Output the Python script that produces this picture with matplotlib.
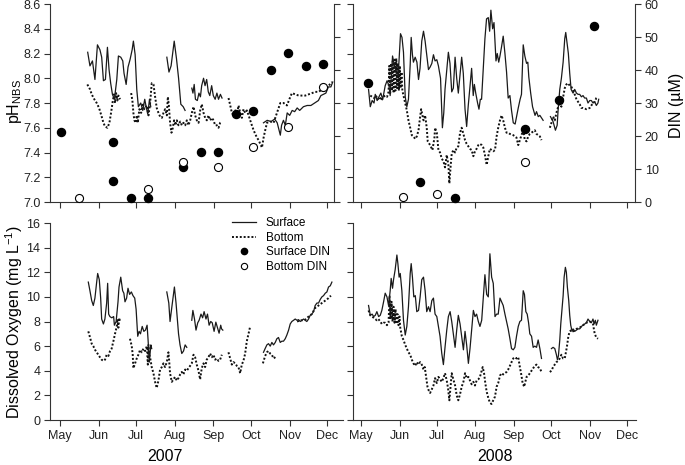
import numpy as np
import matplotlib.pyplot as plt
from matplotlib.lines import Line2D

plt.rcParams['font.family'] = ['Liberation Sans', 'DejaVu Sans']
plt.rcParams['mathtext.fontset'] = 'custom'
plt.rcParams['mathtext.rm'] = 'Liberation Sans'
plt.rcParams['axes.linewidth'] = 0.8

months = ['May', 'Jun', 'Jul', 'Aug', 'Sep', 'Oct', 'Nov', 'Dec']
month_day = [0, 31, 61, 92, 123, 153, 184, 214]   # days since 1 May

# ---------------- 2007 pH (days since 1 May; None = gap) ----------------
ph07_surf_day = [22.2, 24.0, 26.0, 28.0, 30.0, 32.0, 33.4, 34.8, 36.4, 38.0,
                 39.3, 40.6, 42.0, 43.6, 45.5, 46.8, 48.7, 50.3, 51.3, 53.0,
                 54.5, 56.1, 57.8, 58.8, 60.2, 61.5, 62.8, 64.7, 66.3, 67.9,
                 69.0, 70.3, 71.7, 72.7, None,
                 85.6, 87.3, 89.0, 91.5, 93.3, 95.0, 96.8, 98.7, 100.2, None,
                 105.6, 106.5, 107.5, 108.5, 110.0, 111.3, 112.5, 113.5, 115.0, 116.2,
                 117.5, 118.8, 120.0, 121.5, 122.8, 124.3, 125.7, 127.0, 128.5, 129.8, None,
                 163, 166, 169, 172, 174, 175.5, 176.5, 177.5, 179, 180.5,
                 182, 184, 186, 188, 190, 192, 195, 198, 201, 204,
                 207, 209, 211, 213, 215, 217, 218.5]
ph07_surf = [8.21, 8.10, 8.14, 7.99, 8.27, 8.23, 8.17, 7.98, 7.99, 8.25,
             8.07, 7.96, 7.87, 7.83, 7.99, 8.18, 8.17, 8.14, 8.04, 7.95,
             8.09, 8.15, 8.23, 8.30, 8.19, 7.91, 7.77, 7.80, 7.74, 7.83,
             7.77, 7.71, 7.83, 7.77, None,
             8.17, 8.05, 8.10, 8.30, 8.16, 8.00, 7.79, 7.77, 7.74, None,
             7.92, 7.88, 7.95, 7.83, 7.82, 7.88, 7.85, 7.94, 8.00, 7.94,
             7.99, 7.89, 7.86, 7.94, 7.86, 7.83, 7.88, 7.83, 7.87, 7.84, None,
             7.64, 7.66, 7.65, 7.67, 7.64, 7.58, 7.54, 7.62, 7.66, 7.62,
             7.72, 7.70, 7.74, 7.73, 7.76, 7.74, 7.77, 7.78, 7.78, 7.80,
             7.82, 7.86, 7.87, 7.88, 7.93, 7.93, 7.97]

ph07_bot_day = [21.9, 24.1, 25.4, 27.5, 29.4, 31.3, 33.4, 34.8, 36.1, 38.0,
                39.6, 40.9, 42.2, 43.3, 44.1, 44.9, 46.0, 46.8, 48.1, None,
                57.0, 58.0, 58.8, 59.6, 60.7, 61.5, 62.3, 63.6, 65.0, 66.3,
                67.6, 69.5, 70.9, 72.2, 73.5, 74.9, 76.2, 77.5, 78.9, 80.2,
                81.6, 82.9, 84.2, 85.6, 86.4, 87.2, 88.2, 89.3, 90.4, 91.4,
                92.5, 93.6, 94.9, 96.3, 97.6, 98.9, 100.3, 101.6, 102.9, 104.3,
                105.6, 107.0, 108.3, 109.6, 111.0, 112.3, 113.6, 115.0, 116.3, 117.6,
                119.0, 120.3, 121.7, 123.0, 124.3, 125.7, 127.0, 128.3, 129.7, None,
                135.0, 136.4, 137.7, 139.0, 140.4, 141.7, 143.0, 144.4, 145.7, 147.0,
                148.4, 149.7, 151.1, 152.4, 153.7, 155.1, 156.4, 157.8, 159.1, 160.4,
                161.8, 163.1, 164.4, 165.8, 168.4, 171.1, 173.8, 176.5, 179.1, 181.8,
                184.5, 185.8, 188.5, 191.2, 193.9, 196.5, 199.2, 201.9, 204.5, 207.2,
                209.9, 212.6, 215.2, 217.9]
ph07_bot = [7.95, 7.91, 7.87, 7.83, 7.80, 7.76, 7.69, 7.64, 7.61, 7.60,
            7.64, 7.72, 7.81, 7.87, 7.80, 7.88, 7.82, 7.86, 7.83, None,
            7.88, 7.82, 7.72, 7.66, 7.64, 7.70, 7.64, 7.75, 7.72, 7.80,
            7.75, 7.78, 7.70, 7.80, 7.96, 7.95, 7.85, 7.76, 7.72, 7.69,
            7.68, 7.72, 7.75, 7.70, 7.85, 7.78, 7.64, 7.56, 7.60, 7.66,
            7.62, 7.66, 7.62, 7.65, 7.62, 7.64, 7.62, 7.66, 7.62, 7.66,
            7.72, 7.77, 7.70, 7.66, 7.64, 7.74, 7.79, 7.72, 7.68, 7.66,
            7.70, 7.66, 7.68, 7.66, 7.62, 7.62, 7.60, 7.64, 7.65, None,
            7.84, 7.78, 7.72, 7.70, 7.74, 7.70, 7.78, 7.72, 7.68, 7.75,
            7.72, 7.74, 7.70, 7.66, 7.62, 7.58, 7.55, 7.52, 7.50, 7.47,
            7.44, 7.52, 7.58, 7.64, 7.65, 7.64, 7.72, 7.80, 7.80, 7.78,
            7.85, 7.88, 7.87, 7.86, 7.86, 7.86, 7.87, 7.88, 7.89, 7.89,
            7.91, 7.92, 7.94, 7.97]

din07_surf_day = [0.8, 42.8, 42.8, 57.0, 70.6, 98.4, 112.8, 126.7, 141.0, 154.5, 169.0, 183.0, 196.8, 210.4]
din07_surf = [21.2, 18.3, 6.4, 1.3, 1.3, 10.5, 15.1, 15.1, 26.6, 27.7, 40.0, 45.3, 41.2, 41.7]
din07_bot_day = [15.2, 70.6, 98.4, 126.7, 155.0, 183.0, 210.4]
din07_bot = [1.3, 3.9, 12.0, 10.7, 16.8, 22.7, 34.7]

# ---------------- 2008 pH ----------------
ph08_surf_day = [6.1, 7.5, 9.0, 10.5, 11.5, 13.0, 14.5, 16.0, 17.5, 19.5,
                 21.0, 22.5, 23.5, 25.4, 27.0, 28.5, 30.0, 31.8, 33.0, 34.2,
                 35.6, 36.9, 38.2, 39.6, 40.4, 41.4, 42.2, 43.6, 45.0, 46.3,
                 47.5, 48.9, 50.3, 51.6, 53.0, 54.3, 55.6, 57.0, 58.3, 59.6,
                 61.0, 62.3, 64.0, 65.5, 66.6, 67.6, 69.0, 70.3, 71.6, 73.0,
                 74.3, 75.7, 77.0, 78.3, 79.6, 81.0, 82.3, 83.7, 85.0, 86.3,
                 87.6, 89.0, 90.3, 91.2, 92.3, 93.8, 94.9, 96.0, 97.0, 98.5,
                 99.7, 101.0, 102.4, 103.5, 104.5, 105.9, 107.0, 108.6, 109.6, 110.8,
                 111.8, 113.0, 114.4, 115.8, 117.1, 118.4, 119.8, 121.1, 122.5, 124.0,
                 126.5, 128.0, 129.1, 130.5, 131.8, 133.2, 134.2, 135.0, 136.5, 138.0,
                 140.0, 141.2, 142.6, 143.9, 145.2, 146.5, None,
                 152.4, 154.5, 156.4, 157.8, 158.6, 159.9, 161.2, 162.6, 163.9, 164.7,
                 165.8, 166.8, 167.9, 169.0, 170.6, 171.9, 173.3, 174.6, 175.9, 177.3,
                 178.6, 179.9, 181.3, 182.6, 184.0, 185.3, 186.6, 188.0, 189.3, 190.6,
                 191.2]
ph08_surf = [7.91, 7.77, 7.82, 7.80, 7.87, 7.82, 7.85, 7.88, 7.83, 7.94,
             7.98, 7.94, 7.86, 8.18, 8.10, 8.04, 8.03, 8.36, 8.33, 8.21,
             7.85, 7.77, 7.83, 8.11, 8.33, 8.19, 8.13, 8.17, 8.13, 7.99,
             8.08, 8.30, 8.38, 8.30, 8.18, 8.07, 8.09, 8.12, 8.19, 8.14,
             8.15, 8.10, 8.00, 7.60, 7.72, 7.91, 8.07, 8.21, 8.12, 7.89,
             7.92, 8.17, 8.00, 7.88, 8.02, 8.17, 8.04, 7.75, 7.61, 7.78,
             7.92, 8.08, 7.86, 7.95, 7.88, 7.80, 7.75, 7.83, 7.83, 8.10,
             8.32, 8.48, 8.49, 8.38, 8.55, 8.40, 8.45, 8.14, 8.20, 8.13,
             8.18, 8.25, 8.34, 8.20, 8.05, 7.84, 7.86, 7.74, 7.64, 7.63,
             7.76, 7.83, 7.87, 8.27, 8.18, 8.12, 8.13, 8.01, 7.88, 7.77,
             7.70, 7.73, 7.69, 7.70, 7.68, 7.66, None,
             7.69, 7.65, 7.58, 7.62, 7.75, 7.91, 8.00, 8.13, 8.32, 8.37,
             8.28, 8.20, 8.04, 7.91, 7.88, 7.91, 7.88, 7.87, 7.87, 7.85,
             7.86, 7.84, 7.84, 7.80, 7.82, 7.82, 7.80, 7.81, 7.78, 7.80,
             7.83]

ph08_bot_day = [7.5, 9.0, 10.5, 12.0, 13.5, 15.0, 16.5, 18.0, 19.5, 21.0,
                22.2, 22.8, 23.5, 24.2, 24.9, 25.6, 26.3, 27.0, 27.7, 28.4,
                29.1, 29.8, 30.5, 31.2, 31.9, 32.6, 33.3, 34.2, 35.6, 36.9,
                38.2, 39.6, 40.9, 42.2, 43.6, 44.9, 46.3, 47.6, 48.4, 49.5,
                50.3, 51.6, 52.9, 53.7, 55.6, 57.5, 59.1, 59.6, 61.0, 62.3,
                63.6, 65.0, 66.3, 67.6, 69.0, 70.3, 71.1, 72.2, 73.0, 74.3,
                75.7, 77.0, 78.3, 79.7, 81.0, 82.4, 83.7, 85.0, 86.4, 87.7,
                89.0, 90.4, 91.7, 93.0, 94.4, 95.7, 97.1, 98.4, 99.7, 101.1,
                102.4, 103.7, 105.1, 106.4, 107.8, 109.1, 110.4, 111.8, 113.1, 114.4,
                115.8, 117.1, 118.4, 119.8, 122.5, 125.1, 126.5, 127.8, 129.1, 130.5,
                131.8, 133.2, 134.5, 135.8, 137.2, 138.5, 139.8, 141.2, 143.9, 145.2, None,
                151.9, 153.2, 154.5, 155.9, 157.2, 158.6, 159.9, 161.2, 162.6, 163.9,
                165.2, 166.6, 167.9, 169.3, 170.6, 171.9, 173.3, 174.6, 175.9, 177.3,
                178.6, 181.3, 184.0, 185.3, 186.6, 188.0, 189.3, 190.6]
ph08_bot = [7.86, 7.85, 7.84, 7.86, 7.83, 7.85, 7.82, 7.85, 7.86, 7.85,
            7.89, 8.10, 7.88, 8.12, 7.90, 8.14, 7.88, 8.15, 7.90, 8.16,
            7.92, 8.12, 7.90, 8.10, 7.92, 8.05, 7.90, 7.86, 7.80, 7.74,
            7.66, 7.60, 7.54, 7.53, 7.51, 7.53, 7.58, 7.69, 7.75, 7.70,
            7.66, 7.70, 7.60, 7.49, 7.46, 7.42, 7.52, 7.60, 7.56, 7.42,
            7.40, 7.35, 7.33, 7.28, 7.38, 7.30, 7.15, 7.30, 7.39, 7.42,
            7.40, 7.44, 7.45, 7.56, 7.60, 7.55, 7.50, 7.47, 7.45, 7.43,
            7.42, 7.37, 7.41, 7.43, 7.46, 7.47, 7.46, 7.44, 7.38, 7.30,
            7.37, 7.43, 7.42, 7.41, 7.42, 7.53, 7.60, 7.66, 7.70, 7.66,
            7.60, 7.56, 7.56, 7.55, 7.54, 7.52, 7.46, 7.50, 7.54, 7.58,
            7.50, 7.49, 7.53, 7.55, 7.56, 7.57, 7.58, 7.55, 7.53, 7.50, None,
            7.60, 7.64, 7.69, 7.66, 7.72, 7.77, 7.81, 7.77, 7.85, 7.92,
            7.95, 7.96, 7.94, 7.93, 7.90, 7.87, 7.83, 7.81, 7.79, 7.76,
            7.76, 7.75, 7.76, 7.78, 7.80, 7.81, 7.84, 7.85]

din08_surf_day = [5.9, 47.6, 75.7, 131.8, 159.4, 187.4]
din08_surf = [36.1, 6.2, 1.2, 22.0, 31.0, 53.3]
din08_bot_day = [33.7, 61.5, 131.8]
din08_bot = [1.5, 2.3, 12.1]

# ---------------- 2007 dissolved oxygen (mg/L) ----------------
do07_surf_day = [22.7, 24.0, 25.4, 26.7, 28.0, 29.4, 30.2, 31.5, 32.6, 33.4,
                 34.8, 36.0, 37.4, 38.2, 39.0, 40.0, 41.5, 43.0, 43.6, 45.0,
                 46.5, 47.3, 48.7, 50.2, 51.2, 52.1, 53.4, 54.5, 55.8, 57.2,
                 58.5, 59.9, 61.0, 62.3, 63.4, 64.5, 65.9, 67.2, 68.5, 69.8,
                 70.6, 71.6, 72.8, 73.5, None,
                 85.6, 87.2, 88.2, 89.8, 91.7, 93.0, 95.0, 96.2, 97.6, 99.0,
                 100.3, 101.6, None,
                 105.6, 106.5, 107.8, 109.0, 110.4, 111.5, 113.0, 114.3, 115.5, 117.0,
                 118.2, 119.5, 120.8, 122.0, 123.5, 124.9, 126.2, 127.5, 128.8, 129.5,
                 130.5, None,
                 163.1, 164.4, 165.8, 167.1, 168.5, 169.8, 171.1, 172.5, 173.8, 175.1,
                 176.5, 177.8, 179.1, 180.5, 181.8, 183.2, 184.5, 185.8, 187.2, 188.5,
                 189.9, 191.2, 192.5, 193.9, 195.2, 196.5, 197.8, 199.2, 200.5, 201.8,
                 203.2, 204.5, 205.9, 207.2, 208.6, 209.9, 211.2, 212.6, 213.9, 215.2,
                 216.6, 217.9]
do07_surf = [11.2, 10.5, 9.7, 9.3, 9.9, 11.2, 11.9, 11.4, 9.9, 8.2,
             7.8, 8.2, 9.5, 11.1, 8.6, 8.4, 8.3, 8.4, 7.7, 8.0,
             9.6, 10.8, 11.6, 10.5, 10.3, 9.6, 9.9, 10.7, 10.2, 10.4,
             10.1, 9.9, 9.0, 6.8, 7.2, 7.0, 7.6, 7.2, 7.3, 7.7,
             6.5, 4.7, 6.1, 5.8, None,
             10.4, 9.5, 8.0, 9.3, 10.8, 9.5, 7.0, 6.1, 5.4, 5.6,
             6.1, 5.9, None,
             8.1, 8.9, 8.2, 7.3, 7.9, 8.1, 8.6, 8.3, 8.8, 8.2,
             8.6, 7.7, 8.0, 7.9, 7.2, 7.95, 7.5, 7.05, 7.7, 7.4,
             7.3, None,
             5.5, 5.8, 6.1, 6.2, 6.0, 6.3, 6.1, 6.3, 6.6, 6.7,
             6.3, 6.4, 6.4, 6.6, 6.9, 7.3, 7.8, 8.0, 8.1, 8.2,
             8.1, 8.15, 8.0, 8.1, 8.2, 8.1, 8.0, 8.2, 8.5, 8.6,
             8.8, 9.3, 9.5, 9.5, 9.8, 10.0, 10.1, 10.3, 10.4, 10.8,
             10.9, 11.2]

do07_bot_day = [22.7, 24.1, 25.4, 26.7, 28.1, 29.4, 30.7, 32.0, 33.4, 34.8,
                36.1, 37.4, 38.8, 40.1, 41.4, 42.8, 44.1, 45.5, 46.0, 46.8,
                47.5, 48.1, None,
                56.1, 57.5, 58.3, 58.8, 59.5, 60.2, 61.5, 62.8, 64.2, 65.5,
                66.9, 68.2, 69.6, 70.4, 70.9, 71.6, 72.2, 73.5, 74.9, 76.2,
                77.5, 78.9, 80.2, 81.6, 82.9, 84.2, 85.6, 86.9, 87.5, 88.2,
                89.6, 90.9, 92.2, 93.6, 94.9, 96.3, 97.6, 98.9, 100.3, 101.6,
                102.9, 104.3, 105.6, 107.0, 108.3, 109.6, 111.0, 112.3, 113.6, 115.0,
                116.3, 117.6, 119.0, 120.3, 121.7, 123.0, 124.3, 125.7, 127.0, 128.3,
                129.7, None,
                135.0, 136.4, 137.7, 139.0, 140.4, 141.7, 143.0, 144.4, 145.7, 147.0,
                148.4, 149.7, 151.1, 152.4, None,
                162.6, 164.4, 165.8, 167.1, 168.4, 169.8, 171.1, 172.5, 173.8, None,
                190.0, 193.0, 196.0, 199.2, 201.8, 204.5, 207.2, 209.9, 212.6, 215.2,
                217.1]
do07_bot = [7.2, 6.7, 6.2, 6.0, 5.7, 5.5, 5.3, 5.1, 4.9, 4.8,
            4.9, 5.3, 5.2, 5.6, 5.8, 6.4, 7.0, 7.6, 8.2, 7.5,
            8.3, 7.9, None,
            6.6, 6.0, 5.3, 4.2, 4.4, 4.6, 5.0, 5.3, 5.7, 5.5,
            5.8, 5.6, 6.0, 4.5, 6.1, 5.3, 5.1, 4.3, 3.8, 3.1,
            2.6, 3.2, 4.1, 4.3, 4.6, 4.3, 4.7, 5.5, 4.8, 3.8,
            3.1, 3.3, 3.5, 3.2, 3.4, 3.7, 3.9, 3.7, 4.1, 4.0,
            4.2, 4.4, 4.6, 5.3, 5.1, 4.5, 4.0, 3.3, 4.2, 4.6,
            4.3, 4.9, 5.1, 5.4, 5.1, 5.3, 4.9, 5.0, 4.8, 4.9,
            5.3, None,
            5.5, 5.0, 4.5, 4.7, 4.6, 4.4, 4.3, 3.8, 4.5, 4.8,
            5.4, 6.4, 7.0, 7.6, None,
            4.6, 5.2, 5.5, 5.6, 5.4, 5.3, 5.0, 5.1, 5.2, None,
            8.0, 8.1, 8.1, 8.4, 8.6, 9.1, 9.3, 9.5, 9.7, 9.9,
            10.1]

# ---------------- 2008 dissolved oxygen ----------------
do08_surf_day = [6.1, 7.5, 9.0, 10.2, 11.5, 12.8, 14.2, 15.5, 16.8, 18.2,
                 19.5, 20.9, 22.2, 23.5, 24.3, 25.4, 26.2, 27.5, 28.9, 29.7,
                 30.7, 31.6, 32.9, 34.2, 35.6, 36.9, 38.2, 39.6, 40.4, 41.4,
                 42.5, 43.7, 44.9, 46.3, 47.6, 48.9, 50.3, 51.6, 52.9, 54.3,
                 55.6, 57.0, 58.3, 59.6, 61.0, 62.3, 63.6, 65.0, 66.3, 67.6,
                 69.0, 70.3, 71.7, 73.0, 74.3, 75.7, 77.0, 78.3, 79.7, 81.0,
                 82.4, 83.7, 85.0, 86.4, 87.7, 89.0, 90.4, 91.7, 93.0, 94.4,
                 95.7, 97.1, 98.4, 99.7, 101.1, 102.4, 103.7, 105.1, 106.4, 107.8,
                 109.1, 110.4, 111.8, 113.1, 114.4, 115.8, 117.1, 118.4, 119.8, 121.1,
                 122.5, 123.8, 125.1, 126.5, 127.8, 129.1, 130.5, 131.5, 132.6, 133.7,
                 134.8, 135.8, 137.2, 138.5, 139.8, 141.2, 142.5, 143.9, 145.2, None,
                 153.2, 154.5, 155.9, 157.2, 158.0, 158.8, 159.9, 160.7, 161.8, 162.6,
                 163.4, 164.4, 165.2, 166.0, 167.1, 167.9, 168.7, 169.8, 170.6, 171.9,
                 173.3, 174.6, 175.9, 177.3, 178.6, 179.9, 181.3, 182.6, 184.0, 185.3,
                 186.6, 187.5, 188.5, 189.3, 190.6]
do08_surf = [9.3, 8.5, 8.6, 8.4, 8.5, 8.8, 8.4, 8.5, 8.9, 9.6,
             10.3, 10.0, 9.3, 10.5, 11.5, 10.7, 11.4, 12.2, 13.4, 12.7,
             11.6, 11.9, 10.5, 8.1, 6.9, 7.6, 9.2, 11.9, 12.7, 11.6,
             10.0, 10.1, 8.8, 8.9, 10.0, 11.4, 11.6, 10.5, 8.8, 9.2,
             8.8, 9.7, 9.9, 8.6, 8.4, 7.6, 6.8, 5.4, 4.5, 5.9,
             7.3, 8.4, 8.8, 8.0, 7.0, 5.9, 7.3, 8.5, 7.8, 6.8,
             5.7, 7.2, 6.1, 4.6, 5.8, 7.3, 8.9, 8.4, 8.6, 8.0,
             7.6, 8.1, 10.0, 11.8, 10.2, 10.0, 13.5, 11.6, 11.1, 8.4,
             8.6, 8.6, 9.9, 9.6, 9.3, 8.6, 8.0, 7.4, 6.6, 5.8,
             5.7, 5.9, 6.8, 7.6, 8.0, 8.1, 10.5, 10.2, 8.8, 8.6,
             7.9, 7.0, 6.8, 5.9, 6.0, 5.9, 6.5, 5.8, 5.0, None,
             5.8, 5.9, 5.8, 5.3, 4.9, 5.2, 6.5, 7.8, 9.1, 10.1,
             11.6, 12.4, 12.0, 10.8, 9.7, 8.5, 7.7, 7.2, 7.4, 7.2,
             7.3, 7.4, 7.4, 7.6, 7.7, 7.8, 7.9, 8.2, 8.0, 7.9,
             8.2, 7.8, 8.1, 7.7, 8.1]

do08_bot_day = [6.1, 7.5, 9.0, 10.2, 11.5, 12.8, 14.0, 15.5, 16.8, 18.2,
                19.5, 20.9, 22.2, 23.0, 23.8, 24.6, 25.4, 26.2, 27.0, 27.8,
                28.6, 29.4, 30.2, 31.0, 31.6, 32.9, 34.2, 35.6, 36.9, 38.2,
                39.6, 40.9, 42.2, 43.6, 44.9, 46.3, 47.6, 48.9, 50.3, 51.3,
                52.4, 53.5, 54.5, 55.6, 57.0, 58.3, 59.6, 61.0, 62.3, 63.6,
                65.0, 66.3, 67.6, 69.0, 70.0, 71.1, 72.0, 73.0, 74.3, 75.7,
                77.0, 78.3, 79.7, 81.0, 82.4, 83.7, 85.0, 86.4, 87.7, 89.0,
                90.4, 91.7, 93.0, 94.4, 95.7, 97.9, 99.0, 100.0, 101.1, 102.4,
                103.7, 105.0, 106.4, 107.8, 109.1, 110.4, 111.8, 113.1, 114.4, 115.8,
                117.1, 118.4, 119.8, 121.1, 122.5, 123.8, 125.1, 126.5, 127.8, 129.1,
                130.0, 131.3, 132.2, 133.2, 134.5, 135.8, 137.2, 138.5, 139.8, 141.2,
                142.5, 143.9, 145.2, None,
                151.9, 153.2, 154.5, 155.9, 157.2, 158.5, 159.9, 161.2, 162.6, 163.9,
                165.2, 166.0, 166.8, 167.9, 169.3, 170.6, 173.3, 175.9, 178.6, 181.3,
                184.0, 186.6, 188.0, 189.3, 190.6]
do08_bot = [8.9, 8.5, 8.4, 8.3, 8.2, 8.1, 8.2, 8.0, 7.8, 7.9,
            7.9, 7.7, 7.9, 10.1, 8.2, 9.6, 8.0, 9.2, 7.9, 9.0,
            7.8, 8.6, 7.7, 8.4, 7.5, 6.8, 6.5, 6.1, 5.8, 5.5,
            5.3, 4.9, 4.6, 4.4, 4.7, 4.5, 4.7, 4.5, 4.1, 4.3,
            3.5, 2.7, 2.4, 2.2, 2.5, 2.8, 3.4, 3.0, 3.5, 3.3,
            3.1, 3.4, 3.8, 3.2, 2.6, 1.6, 2.6, 3.8, 3.3, 2.8,
            2.0, 1.6, 2.1, 2.7, 3.1, 3.8, 3.4, 3.5, 3.2, 2.9,
            3.1, 2.8, 3.2, 3.3, 3.5, 4.3, 3.8, 3.0, 2.3, 1.8,
            1.4, 1.3, 1.6, 1.9, 2.7, 3.0, 3.6, 3.8, 3.7, 3.8,
            3.9, 4.1, 4.4, 4.7, 5.0, 5.1, 5.0, 5.1, 4.3, 3.6,
            3.0, 2.7, 3.1, 3.5, 3.6, 3.8, 4.0, 4.2, 4.4, 4.5,
            4.3, 4.2, 3.9, None,
            3.9, 4.0, 4.3, 4.5, 4.7, 4.8, 5.0, 5.3, 5.0, 5.0,
            5.7, 6.2, 6.8, 7.2, 7.3, 7.2, 7.4, 7.5, 7.7, 7.9,
            8.0, 7.8, 7.0, 6.7, 6.6]


def arr(v):
    return np.array(v, dtype=float)


fig = plt.figure(figsize=(6.85, 4.65), dpi=100)
W, H = 685, 465


def box(l, t, r, b):
    return [l / W, 1 - b / H, (r - l) / W, (b - t) / H]


ax_tl = fig.add_axes(box(50, 4, 334, 202))
ax_tr = fig.add_axes(box(353, 4, 635, 202))
ax_bl = fig.add_axes(box(50, 223, 343, 420))
ax_br = fig.add_axes(box(353, 223, 636, 420))

solid = dict(color='#1a1a1a', lw=0.9)
dotted = dict(color='#111111', lw=1.4, ls=(0, (1, 1.0)))
spine_col = '#333333'


def style(ax, xlim, labels):
    ax.set_xlim(*xlim)
    ax.set_xticks(month_day)
    if labels:
        ax.set_xticklabels(months)
    else:
        ax.set_xticklabels([])
    ax.spines['top'].set_visible(False)
    ax.spines['right'].set_visible(False)
    for s in ax.spines.values():
        s.set_color(spine_col)
    ax.tick_params(direction='out', length=4, width=0.8, labelsize=9,
                   color=spine_col, labelcolor='#222222', pad=3)


# top panels: pH + DIN
for ax, sd, sv, bd, bv, fd, fv, od, ov, xlim, left in [
        (ax_tl, ph07_surf_day, ph07_surf, ph07_bot_day, ph07_bot,
         din07_surf_day, din07_surf, din07_bot_day, din07_bot, (-8.0, 219.5), True),
        (ax_tr, ph08_surf_day, ph08_surf, ph08_bot_day, ph08_bot,
         din08_surf_day, din08_surf, din08_bot_day, din08_bot, (-6.4, 220.4), False)]:
    ax.plot(arr(bd), arr(bv), **dotted)
    ax.plot(arr(sd), arr(sv), **solid)
    style(ax, xlim, False)
    ax.set_ylim(7.0, 8.6)
    ax.set_yticks(np.arange(7.0, 8.61, 0.2))
    ax.set_yticklabels(['%.1f' % t for t in np.arange(7.0, 8.61, 0.2)])
    if not left:
        ax.tick_params(labelleft=False)
    tw = ax.twinx()
    tw.set_ylim(0, 60)
    tw.set_yticks(range(0, 61, 10))
    tw.set_xlim(*xlim)
    for k in ['top', 'left', 'bottom']:
        tw.spines[k].set_visible(False)
    tw.spines['right'].set_color(spine_col)
    tw.tick_params(direction='out', length=4, width=0.8, labelsize=9,
                   color=spine_col, labelcolor='#222222', pad=3,
                   labelright=not left)
    tw.plot(fd, fv, 'o', ms=5.8, color='black', clip_on=False, zorder=5)
    tw.plot(od, ov, 'o', ms=5.8, mfc='white', mec='black', mew=0.8,
            clip_on=False, zorder=5)

# bottom panels: dissolved oxygen
for ax, sd, sv, bd, bv, xlim, left in [
        (ax_bl, do07_surf_day, do07_surf, do07_bot_day, do07_bot, (-8.0, 226.8), True),
        (ax_br, do08_surf_day, do08_surf, do08_bot_day, do08_bot, (-6.4, 221.2), False)]:
    ax.plot(arr(bd), arr(bv), **dotted)
    ax.plot(arr(sd), arr(sv), **solid)
    style(ax, xlim, True)
    ax.set_ylim(0, 16)
    ax.set_yticks(range(0, 17, 2))
    if not left:
        ax.tick_params(labelleft=False)

handles = [Line2D([], [], **solid),
           Line2D([], [], **dotted),
           Line2D([], [], ls='none', marker='o', ms=4.5, color='black'),
           Line2D([], [], ls='none', marker='o', ms=4.5, mfc='white',
                  mec='black', mew=0.8)]
ax_bl.legend(handles, ['Surface', 'Bottom', 'Surface DIN', 'Bottom DIN'],
             loc='upper left', bbox_to_anchor=(0.62, 1.03), frameon=False,
             fontsize=8.5, handlelength=2.1, handletextpad=0.8,
             labelspacing=0.22, borderaxespad=0, borderpad=0)

fig.text(14 / W, 1 - 101 / H, r'pH$_{\mathregular{NBS}}$', rotation=90,
         ha='center', va='center', fontsize=11.5)
fig.text(677 / W, 1 - 105 / H, 'DIN (\u00b5M)', rotation=90,
         ha='center', va='center', fontsize=11.5)
fig.text(14 / W, 1 - 322 / H, r'Dissolved Oxygen (mg L$^{\mathregular{-1}}$)',
         rotation=90, ha='center', va='center', fontsize=11.5)
fig.text(165 / W, 1 - 456 / H, '2007', ha='center', va='center', fontsize=11.5)
fig.text(495 / W, 1 - 456 / H, '2008', ha='center', va='center', fontsize=11.5)

fig.savefig('out.png', dpi=100)
